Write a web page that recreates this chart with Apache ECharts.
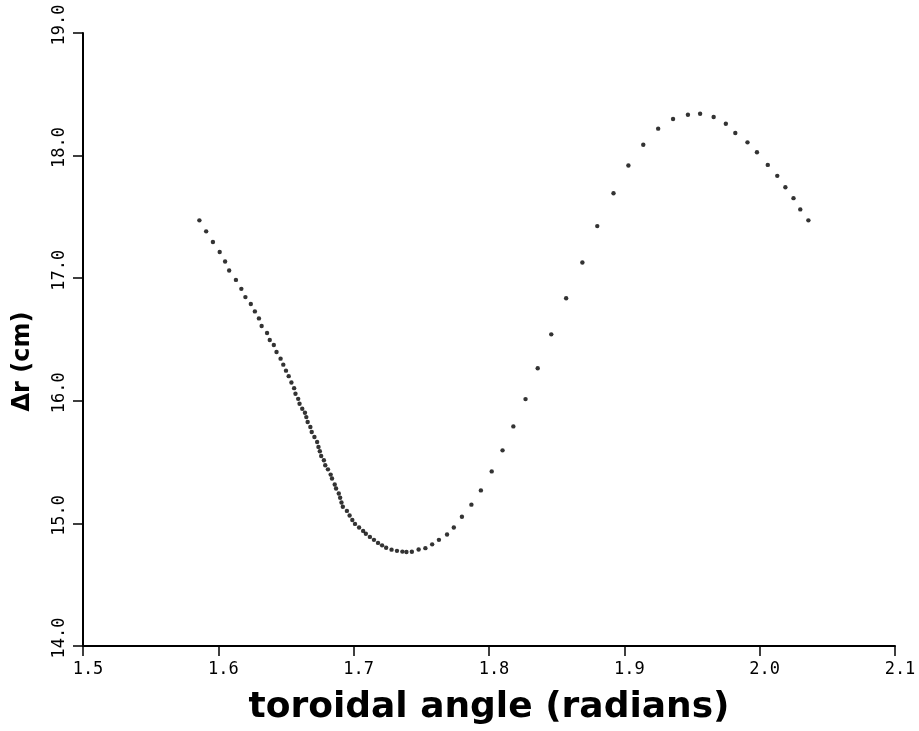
<!DOCTYPE html>
<html>
<head>
<meta charset="utf-8">
<script src="https://cdn.jsdelivr.net/npm/echarts@6/dist/echarts.min.js"></script>
<style>
html,body{margin:0;padding:0;background:#fff;}
#chart{width:919px;height:731px;}
</style>
</head>
<body>
<div id="chart"></div>
<script>
var xTicks = [1.5, 1.6, 1.7, 1.8, 1.9, 2.0, 2.1];
var yTicks = [14, 15, 16, 17, 18, 19];
var angle = [
  1.586, 1.591, 1.596, 1.601, 1.605, 1.608, 1.613, 1.617, 1.620, 1.624,
  1.627, 1.630, 1.632, 1.636, 1.638, 1.641, 1.643, 1.646, 1.648, 1.650,
  1.652, 1.654, 1.656, 1.657, 1.659, 1.660, 1.662, 1.664, 1.665, 1.666,
  1.668, 1.669, 1.671, 1.673, 1.674, 1.675, 1.676, 1.678, 1.679, 1.681,
  1.683, 1.684, 1.686, 1.687, 1.689, 1.690, 1.691, 1.692, 1.695, 1.697,
  1.699, 1.701, 1.704, 1.707, 1.709, 1.712, 1.715, 1.718, 1.721, 1.724,
  1.728, 1.732, 1.736, 1.739, 1.743, 1.748, 1.753, 1.758, 1.763, 1.769,
  1.774, 1.780, 1.787, 1.794, 1.802, 1.810, 1.818, 1.827, 1.836, 1.846,
  1.857, 1.869, 1.880, 1.892, 1.903, 1.914, 1.925, 1.936, 1.947, 1.956,
  1.966, 1.975, 1.982, 1.991, 1.998, 2.006, 2.013, 2.019, 2.025, 2.030,
  2.036
];
var deltaR = [
  17.472, 17.382, 17.295, 17.214, 17.136, 17.063, 16.986, 16.913, 16.846, 16.789,
  16.729, 16.672, 16.610, 16.553, 16.496, 16.455, 16.398, 16.344, 16.295, 16.246,
  16.201, 16.149, 16.103, 16.057, 16.016, 15.976, 15.935, 15.902, 15.867, 15.827,
  15.786, 15.746, 15.705, 15.664, 15.624, 15.588, 15.550, 15.515, 15.474, 15.441,
  15.398, 15.366, 15.317, 15.285, 15.244, 15.209, 15.171, 15.136, 15.102, 15.065,
  15.028, 14.996, 14.967, 14.939, 14.915, 14.890, 14.866, 14.841, 14.821, 14.801,
  14.786, 14.776, 14.770, 14.767, 14.769, 14.787, 14.798, 14.829, 14.866, 14.909,
  14.967, 15.054, 15.153, 15.269, 15.424, 15.596, 15.791, 16.014, 16.266, 16.542,
  16.837, 17.128, 17.425, 17.693, 17.919, 18.089, 18.220, 18.298, 18.333, 18.341,
  18.315, 18.260, 18.184, 18.108, 18.027, 17.924, 17.835, 17.742, 17.653, 17.561,
  17.472
];
var xName = 'toroidal angle (radians)';
var yName = 'Δr (cm)';

var points = angle.map(function (a, i) { return [a, deltaR[i]]; });

var chart = echarts.init(document.getElementById('chart'), null, {renderer: 'canvas'});
var tickFont = '"DejaVu Sans Mono", monospace';
chart.setOption({
  animation: false,
  backgroundColor: '#ffffff',
  grid: {left: 83, right: 24, top: 33, bottom: 83, containLabel: false},
  xAxis: {
    type: 'value',
    min: xTicks[0], max: xTicks[xTicks.length - 1], interval: 0.1,
    name: xName, nameLocation: 'middle', nameGap: 44,
    nameTextStyle: {fontFamily: '"DejaVu Sans", sans-serif', fontWeight: 'bold', fontSize: 36, color: '#000'},
    axisLine: {show: true, onZero: false, lineStyle: {color: '#000', width: 2}},
    axisTick: {show: true, length: 10, lineStyle: {color: '#000', width: 1.5}},
    axisLabel: {
      color: '#000', fontFamily: tickFont, fontSize: 17, margin: 15,
      padding: [0, 0, 0, 10],
      formatter: function (v) { return v.toFixed(1); }
    },
    splitLine: {show: false}
  },
  yAxis: {
    type: 'value',
    min: yTicks[0], max: yTicks[yTicks.length - 1], interval: 1,
    name: yName, nameLocation: 'middle', nameGap: 48, nameRotate: 90,
    nameTextStyle: {fontFamily: '"DejaVu Sans", sans-serif', fontWeight: 'bold', fontSize: 24, color: '#000', padding: [0, 44, 0, 0]},
    axisLine: {show: true, onZero: false, lineStyle: {color: '#000', width: 2}},
    axisTick: {show: true, length: 10, lineStyle: {color: '#000', width: 1.5}},
    axisLabel: {
      color: '#000', fontFamily: tickFont, fontSize: 17, margin: 15, rotate: 90,
      padding: [0, 0, 0, 16],
      formatter: function (v) { return v.toFixed(1); }
    },
    splitLine: {show: false}
  },
  series: [{
    type: 'scatter',
    data: points,
    symbol: 'circle',
    symbolSize: 4.4,
    itemStyle: {color: '#000'}
  }]
});
</script>
</body>
</html>
